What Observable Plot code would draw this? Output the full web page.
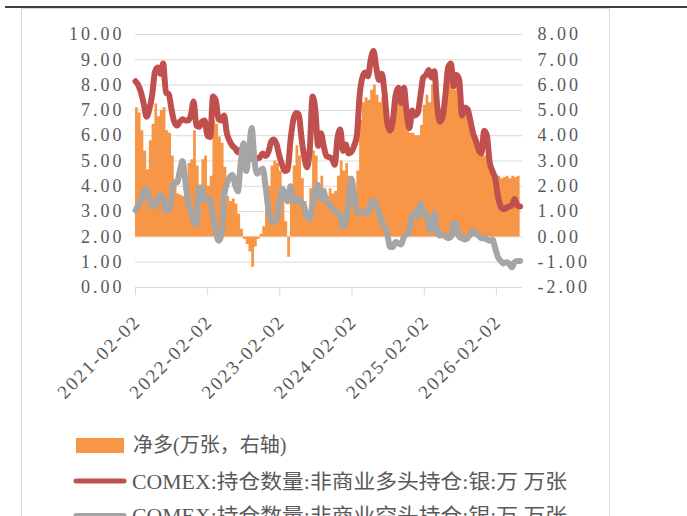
<!DOCTYPE html>
<html><head><meta charset="utf-8">
<script src="https://cdn.jsdelivr.net/npm/d3@7"></script>
<script src="https://cdn.jsdelivr.net/npm/@observablehq/plot@0.6"></script>
<style>
html,body{margin:0;padding:0;background:#fff;}
#wrap{position:relative;width:687px;height:516px;overflow:hidden;background:#fff;}
#deco{position:absolute;left:0;top:0;}
#chart{position:absolute;left:0;top:0;}
#legend{position:absolute;left:0;top:420px;}
#chart g[aria-label="y-axis tick label"] text{letter-spacing:3px;}
#chart g[aria-label="x-axis tick label"] text{letter-spacing:2px;}
</style></head><body>
<div id="wrap">
<svg id="deco" width="687" height="516">
  <rect x="21.5" y="8.5" width="588" height="600" fill="none" stroke="#d9d9d9" stroke-width="1"/>
  <line x1="5" x2="687" y1="7" y2="7" stroke="#404040" stroke-width="2"/>
</svg>
<div id="chart"></div>
<svg id="legend" width="687" height="96"></svg>
</div>
<script>
// Weekly CFTC report dates sampled every two weeks from the first date
const startDate = "2021-02-02";
const stepDays = 14;

// COMEX silver non-commercial long positions (万张, left axis)
const longPos = [8.15,8.0,7.7,7.25,6.75,7.05,7.6,8.5,8.7,8.45,
8.85,7.7,7.65,7.05,6.55,6.4,6.55,6.65,6.6,6.6,
6.8,7.35,6.4,6.35,6.55,6.6,6.0,5.95,7.55,7.4,
6.65,6.6,6.8,6.1,5.8,5.6,5.5,5.35,5.45,5.5,
5.4,5.25,5.15,5.05,5.1,5.15,5.3,5.2,5.35,5.75,
5.85,5.65,5.2,4.85,4.6,4.65,5.8,6.6,6.9,6.85,
5.9,5.15,4.75,5.5,7.55,7.0,5.6,6.1,5.6,5.2,
5.15,5.1,4.85,5.9,6.25,5.4,5.65,5.3,5.35,5.6,
6.0,7.6,8.3,8.5,8.35,9.0,9.35,8.7,8.2,8.45,
7.7,6.5,6.2,6.6,7.6,7.9,7.3,7.9,6.9,6.3,
7.0,6.8,6.9,7.6,8.3,8.4,8.6,8.3,8.55,7.2,
6.55,6.75,7.6,8.7,8.85,7.95,8.4,8.2,6.8,7.1,
7.05,6.6,6.1,5.8,5.45,5.3,6.2,6.0,4.95,4.6,
4.3,3.6,3.2,3.1,3.15,3.2,3.25,3.5,3.25,3.2];

// COMEX silver non-commercial short positions (万张, left axis)
const shortPos = [3.05,3.25,3.45,3.8,3.9,3.45,3.25,3.2,3.5,3.65,
3.5,3.05,3.05,3.6,4.15,4.15,4.6,5.0,4.2,3.3,
3.0,2.65,2.5,3.95,3.95,3.45,3.5,3.5,2.8,2.25,
1.85,2.05,3.6,4.1,4.35,4.45,4.05,3.8,4.9,5.7,
4.6,5.4,6.3,5.0,4.5,4.6,4.7,4.0,3.1,2.65,
2.6,2.75,3.3,3.9,3.7,3.4,4.0,3.5,3.4,3.5,
3.35,3.2,2.8,2.7,3.3,3.8,4.05,3.5,3.8,3.35,
3.3,3.15,3.0,2.95,2.85,2.4,2.65,3.3,4.3,3.7,
3.0,2.95,2.95,3.0,2.95,3.3,3.45,3.25,2.95,2.6,
2.4,2.1,1.6,1.6,1.8,1.75,1.7,2.0,2.1,2.25,
2.9,2.95,2.8,3.3,2.95,2.9,2.4,2.25,2.95,2.2,
2.05,2.1,2.0,1.95,2.0,2.55,2.5,2.0,1.95,1.9,
1.95,2.1,2.25,2.15,2.05,1.95,1.95,1.9,1.85,1.9,
1.55,1.2,1.05,0.95,1.0,0.95,0.8,1.0,1.05,1.05];

// Net long (万张, right axis)
const netLong = [5.1,4.9,4.2,3.4,2.65,3.8,4.45,5.25,4.75,5.0,
5.1,4.2,4.1,3.2,2.25,1.7,1.65,1.6,2.0,2.9,
3.05,4.2,2.8,1.6,3.05,3.2,2.0,2.4,4.6,4.45,
3.95,3.7,2.75,1.6,1.4,1.5,1.3,0.9,0.3,-0.1,
-0.3,-0.6,-1.2,-0.4,-0.1,0.1,0.4,1.2,2.0,2.8,
3.0,2.9,2.6,1.6,0.6,-0.8,1.6,2.8,3.6,3.2,
2.3,1.4,0.6,1.9,3.4,3.2,2.0,2.4,1.9,1.6,
1.9,1.7,1.8,2.4,3.0,2.6,2.9,2.4,1.6,1.7,
2.6,4.6,5.3,5.5,5.4,5.8,6.0,5.6,5.3,5.5,
4.9,4.2,4.1,4.5,5.3,5.8,5.5,5.9,4.8,4.1,
4.1,4.0,4.0,4.4,5.2,5.6,5.3,6.0,5.7,5.2,
4.6,4.7,5.6,6.6,6.6,5.8,5.9,5.9,4.9,5.2,
5.1,4.7,4.0,3.8,3.5,3.3,3.2,3.1,2.7,2.5,
2.45,2.4,2.3,2.35,2.4,2.3,2.4,2.35,2.4,2.3];

const leftTicks = [0,1,2,3,4,5,6,7,8,9,10];
const rightTicks = [-2,-1,0,1,2,3,4,5,6,7,8];
const xTickLabels = ["2021-02-02","2022-02-02","2023-02-02","2024-02-02","2025-02-02","2026-02-02"];
const xDomain = ["2021-02-02","2026-06-14"];
const legendLabels = ["净多(万张，右轴)","COMEX:持仓数量:非商业多头持仓:银:万 万张","COMEX:持仓数量:非商业空头持仓:银:万 万张"];
const colors = {net:"#F79646", long:"#C0504D", short:"#A5A5A5"};

// right axis value = left axis value - offset
const offset = leftTicks[0] - rightTicks[0];

const dates = longPos.map((_, i) => d3.utcDay.offset(new Date(startDate), stepDays * i));
const data = dates.map((date, i) => ({date, long: longPos[i], short: shortPos[i], net: netLong[i]}));
const xTicks = xTickLabels.map(s => new Date(s));

const plot = Plot.plot({
  width: 687, height: 420,
  marginLeft: 135, marginRight: 165, marginTop: 34, marginBottom: 133,
  style: {fontFamily: "'Liberation Serif', 'Noto Sans CJK SC', serif", fontSize: "18px", color: "#595959", background: "transparent"},
  x: {type: "utc", domain: xDomain.map(s => new Date(s))},
  y: {domain: [leftTicks[0], leftTicks[leftTicks.length - 1]]},
  marks: [
    Plot.gridY(leftTicks.slice(1), {stroke: "#d9d9d9", strokeOpacity: 1}),
    Plot.areaY(data, {x: "date", y1: d => offset, y2: d => d.net + offset, fill: colors.net, curve: "step-after"}),
    Plot.ruleY([leftTicks[0]], {stroke: "#d9d9d9"}),
    Plot.line(data, {x: "date", y: "long", stroke: colors.long, strokeWidth: 6, curve: "monotone-x", strokeLinejoin: "round"}),
    Plot.line(data, {x: "date", y: "short", stroke: colors.short, strokeWidth: 6, curve: "monotone-x", strokeLinejoin: "round"}),
    Plot.axisY(leftTicks, {anchor: "left", tickSize: 0, tickPadding: 11, tickFormat: d => d.toFixed(2), fill: "#595959"}),
    Plot.axisY(rightTicks.map(v => v + offset), {anchor: "right", tickSize: 0, tickPadding: 15, tickFormat: d => (d - offset).toFixed(2), fill: "#595959"}),
    Plot.axisX(xTicks, {tickSize: 8, stroke: "#d9d9d9", text: null}),
    Plot.axisX(xTicks, {tickSize: 0, tickRotate: -45, tickPadding: 31, dx: 2, fontSize: 19, tickFormat: d3.utcFormat("%Y-%m-%d"), fill: "#595959"})
  ]
});
document.getElementById("chart").appendChild(plot);

// legend
const lg = d3.select("#legend");
const font = "'Liberation Serif', 'Noto Sans CJK SC', serif";
lg.append("rect").attr("x", 76).attr("y", 18).attr("width", 48).attr("height", 15).attr("fill", colors.net);
lg.append("text").attr("x", 133).attr("y", 32).text(legendLabels[0])
  .attr("font-family", font).attr("font-size", 20).attr("fill", "#595959");
[[colors.long, 61, 69, legendLabels[1]], [colors.short, 95.5, 103, legendLabels[2]]].forEach(([c, ly, ty, t]) => {
  lg.append("line").attr("x1", 76).attr("x2", 124).attr("y1", ly).attr("y2", ly)
    .attr("stroke", c).attr("stroke-width", 5).attr("stroke-linecap", "round");
  lg.append("text").attr("x", 132).attr("y", ty).text(t)
    .attr("font-family", font).attr("font-size", 20).attr("fill", "#595959")
    .attr("textLength", 435).attr("lengthAdjust", "spacingAndGlyphs");
});
</script>
</body></html>
